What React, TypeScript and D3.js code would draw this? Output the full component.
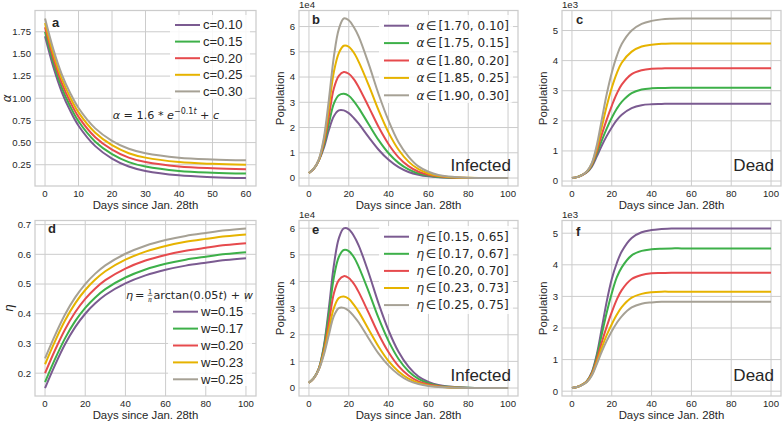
import React from "react";
import * as d3 from "d3";

// ---------- data ----------
const A_DAYS = [0, 2.5, 5, 7.5, 10, 15, 20, 25, 30, 40, 50, 60];
const DAYS = [0, 2.5, 5, 7.5, 10, 12.5, 15, 17.5, 20, 22.5, 25, 30, 35, 40, 45, 50, 55, 60, 65, 70, 80, 90, 100];
const D_DAYS = [0, 5, 10, 15, 20, 25, 30, 40, 50, 60, 70, 80, 90, 100];

const COLORS = ["#7b5b91", "#3db049", "#e64a4d", "#e6b300", "#a6a195"];

// panel a: alpha(t)
const aC010 = [1.70, 1.35, 1.07, 0.86, 0.69, 0.46, 0.32, 0.23, 0.18, 0.13, 0.11, 0.10];
const aC015 = [1.75, 1.40, 1.12, 0.91, 0.74, 0.51, 0.37, 0.28, 0.23, 0.18, 0.16, 0.15];
const aC020 = [1.80, 1.45, 1.17, 0.96, 0.79, 0.56, 0.42, 0.33, 0.28, 0.23, 0.21, 0.20];
const aC025 = [1.85, 1.50, 1.22, 1.01, 0.84, 0.61, 0.47, 0.38, 0.33, 0.28, 0.26, 0.25];
const aC030 = [1.90, 1.55, 1.27, 1.06, 0.89, 0.66, 0.52, 0.43, 0.38, 0.33, 0.31, 0.30];
const A_LABELS = ["c=0.10", "c=0.15", "c=0.20", "c=0.25", "c=0.30"];

// panel b: infected (1e4)
const bPurple = [0.20, 0.37, 0.70, 1.20, 1.90, 2.45, 2.68, 2.68, 2.57, 2.38, 2.15, 1.62, 1.12, 0.72, 0.43, 0.24, 0.13, 0.065, 0.032, 0.015, 0.003, 0, 0];
const bGreen = [0.20, 0.37, 0.71, 1.30, 2.15, 2.95, 3.28, 3.34, 3.26, 3.05, 2.77, 2.13, 1.50, 0.98, 0.60, 0.34, 0.18, 0.095, 0.045, 0.022, 0.004, 0, 0];
const bRed = [0.20, 0.37, 0.72, 1.40, 2.45, 3.55, 4.05, 4.20, 4.13, 3.92, 3.60, 2.82, 2.02, 1.34, 0.82, 0.47, 0.25, 0.13, 0.065, 0.03, 0.005, 0, 0];
const bYellow = [0.20, 0.38, 0.73, 1.50, 2.80, 4.20, 4.95, 5.24, 5.20, 4.97, 4.60, 3.68, 2.68, 1.80, 1.12, 0.65, 0.35, 0.18, 0.09, 0.045, 0.008, 0, 0];
const bGray = [0.20, 0.38, 0.75, 1.60, 3.10, 4.80, 5.90, 6.32, 6.25, 5.98, 5.60, 4.52, 3.32, 2.27, 1.42, 0.85, 0.46, 0.25, 0.12, 0.06, 0.01, 0, 0];
const B_LABELS = ["[1.70, 0.10]", "[1.75, 0.15]", "[1.80, 0.20]", "[1.85, 0.25]", "[1.90, 0.30]"];

// panel c: dead (1e3)
const cPurple = [0.10, 0.13, 0.19, 0.29, 0.48, 0.82, 1.18, 1.50, 1.78, 2.02, 2.20, 2.42, 2.52, 2.55, 2.56, 2.57, 2.57, 2.57, 2.57, 2.57, 2.57, 2.57, 2.57];
const cGreen = [0.10, 0.13, 0.20, 0.30, 0.52, 0.92, 1.35, 1.75, 2.10, 2.40, 2.63, 2.92, 3.04, 3.08, 3.09, 3.10, 3.10, 3.10, 3.10, 3.10, 3.10, 3.10, 3.10];
const cRed = [0.10, 0.13, 0.20, 0.31, 0.55, 1.00, 1.55, 2.05, 2.50, 2.90, 3.20, 3.55, 3.68, 3.73, 3.74, 3.75, 3.75, 3.75, 3.75, 3.75, 3.75, 3.75, 3.75];
const cYellow = [0.10, 0.13, 0.20, 0.32, 0.58, 1.10, 1.80, 2.50, 3.10, 3.58, 3.93, 4.30, 4.47, 4.53, 4.56, 4.57, 4.57, 4.57, 4.57, 4.57, 4.57, 4.57, 4.57];
const cGray = [0.10, 0.13, 0.20, 0.32, 0.60, 1.20, 2.05, 2.90, 3.60, 4.15, 4.55, 5.00, 5.22, 5.32, 5.37, 5.39, 5.40, 5.40, 5.40, 5.40, 5.40, 5.40, 5.40];

// panel d: eta(t)
const dW015 = [0.150, 0.228, 0.298, 0.355, 0.400, 0.435, 0.463, 0.502, 0.529, 0.548, 0.562, 0.572, 0.581, 0.587];
const dW017 = [0.170, 0.248, 0.318, 0.375, 0.420, 0.455, 0.483, 0.522, 0.549, 0.568, 0.582, 0.592, 0.601, 0.607];
const dW020 = [0.200, 0.278, 0.348, 0.405, 0.450, 0.485, 0.513, 0.552, 0.579, 0.598, 0.612, 0.622, 0.631, 0.637];
const dW023 = [0.230, 0.308, 0.378, 0.435, 0.480, 0.515, 0.543, 0.582, 0.609, 0.628, 0.642, 0.652, 0.661, 0.667];
const dW025 = [0.250, 0.328, 0.398, 0.455, 0.500, 0.535, 0.563, 0.602, 0.629, 0.648, 0.662, 0.672, 0.681, 0.687];
const D_LABELS = ["w=0.15", "w=0.17", "w=0.20", "w=0.23", "w=0.25"];

// panel e: infected (1e4)
const ePurple = [0.20, 0.38, 0.75, 1.58, 3.00, 4.60, 5.62, 5.99, 5.96, 5.72, 5.35, 4.32, 3.17, 2.16, 1.36, 0.80, 0.43, 0.23, 0.11, 0.055, 0.01, 0, 0];
const eGreen = [0.20, 0.38, 0.74, 1.52, 2.78, 4.15, 4.92, 5.18, 5.14, 4.92, 4.55, 3.62, 2.62, 1.76, 1.09, 0.63, 0.34, 0.18, 0.09, 0.045, 0.008, 0, 0];
const eRed = [0.20, 0.37, 0.72, 1.40, 2.45, 3.55, 4.05, 4.20, 4.13, 3.92, 3.60, 2.82, 2.02, 1.34, 0.82, 0.47, 0.25, 0.13, 0.065, 0.03, 0.005, 0, 0];
const eYellow = [0.20, 0.37, 0.71, 1.32, 2.20, 3.00, 3.38, 3.44, 3.35, 3.13, 2.86, 2.20, 1.55, 1.01, 0.62, 0.35, 0.19, 0.10, 0.047, 0.023, 0.004, 0, 0];
const eGray = [0.20, 0.37, 0.70, 1.25, 2.00, 2.70, 3.00, 3.01, 2.90, 2.70, 2.46, 1.86, 1.29, 0.84, 0.51, 0.28, 0.15, 0.075, 0.037, 0.018, 0.003, 0, 0];
const E_LABELS = ["[0.15, 0.65]", "[0.17, 0.67]", "[0.20, 0.70]", "[0.23, 0.73]", "[0.25, 0.75]"];

// panel f: dead (1e3)
const fPurple = [0.10, 0.13, 0.20, 0.32, 0.60, 1.17, 2.00, 2.85, 3.55, 4.05, 4.42, 4.85, 5.03, 5.10, 5.13, 5.15, 5.15, 5.15, 5.15, 5.15, 5.15, 5.15, 5.15];
const fGreen = [0.10, 0.13, 0.20, 0.32, 0.58, 1.10, 1.80, 2.50, 3.10, 3.60, 3.92, 4.30, 4.44, 4.49, 4.51, 4.52, 4.52, 4.52, 4.52, 4.52, 4.52, 4.52, 4.52];
const fRed = [0.10, 0.13, 0.20, 0.31, 0.55, 1.00, 1.55, 2.05, 2.50, 2.90, 3.20, 3.55, 3.68, 3.73, 3.74, 3.75, 3.75, 3.75, 3.75, 3.75, 3.75, 3.75, 3.75];
const fYellow = [0.10, 0.13, 0.20, 0.30, 0.52, 0.92, 1.38, 1.78, 2.12, 2.42, 2.66, 2.96, 3.08, 3.13, 3.15, 3.15, 3.15, 3.15, 3.15, 3.15, 3.15, 3.15, 3.15];
const fGray = [0.10, 0.13, 0.19, 0.29, 0.50, 0.86, 1.25, 1.60, 1.90, 2.16, 2.37, 2.65, 2.77, 2.81, 2.83, 2.83, 2.83, 2.83, 2.83, 2.83, 2.83, 2.83, 2.83];

const X_TICKS_A = [0, 10, 20, 30, 40, 50, 60];
const X_TICKS = [0, 20, 40, 60, 80, 100];
const Y_TICKS_A = [0.25, 0.5, 0.75, 1.0, 1.25, 1.5, 1.75];
const Y_TICKS_B = [0, 1, 2, 3, 4, 5, 6];
const Y_TICKS_C = [0, 1, 2, 3, 4, 5];
const Y_TICKS_D = [0.2, 0.3, 0.4, 0.5, 0.6, 0.7];
const X_LABEL = "Days since Jan. 28th";

// ---------- style ----------
const FONT = "'Liberation Sans', Arial, sans-serif";
const MATH = "'DejaVu Sans', sans-serif";
const INK = "#262626";
const GRID = "#cccccc";

const COLS = [{ l: 35, r: 256 }, { l: 299, r: 518 }, { l: 562, r: 781 }];
const ROWS = [{ t: 10.5, b: 186 }, { t: 220.5, b: 396 }];

function padExtent(vals: number[]): [number, number] {
  const [mn, mx] = d3.extent(vals) as [number, number];
  const p = (mx - mn) * 0.05;
  return [mn - p, mx + p];
}

type PanelProps = {
  col: number;
  row: number;
  letter: string;
  letterDx: number;
  letterDy: number;
  days: number[];
  series: number[][];
  xTicks: number[];
  yTicks: number[];
  yFmt: (v: number) => string;
  ylabel: React.ReactNode;
  exp?: string;
  note?: string;
  legend?: { labels: string[]; sym?: string; x: number; y: number; dy: number; w: number; h: number; boxX: number; boxY: number };
  extra?: React.ReactNode;
};

function Panel(p: PanelProps) {
  const { l, r } = COLS[p.col];
  const { t, b } = ROWS[p.row];
  const x = d3.scaleLinear().domain(padExtent(p.days)).range([l, r]);
  const y = d3.scaleLinear().domain(padExtent(p.series.flat())).range([b, t]);
  const line = d3
    .line<[number, number]>()
    .x((d) => x(d[0]))
    .y((d) => y(d[1]))
    .curve(d3.curveCatmullRom.alpha(0.5));
  const lg = p.legend;
  return (
    <g>
      <rect x={l} y={t} width={r - l} height={b - t} fill="#fff" />
      {p.xTicks.map((v) => (
        <line key={"gx" + v} x1={x(v)} x2={x(v)} y1={t} y2={b} stroke={GRID} strokeWidth={1} />
      ))}
      {p.yTicks.map((v) => (
        <line key={"gy" + v} x1={l} x2={r} y1={y(v)} y2={y(v)} stroke={GRID} strokeWidth={1} />
      ))}
      {lg && (
        <rect x={lg.boxX} y={lg.boxY} width={lg.w} height={lg.h} fill="#fff" fillOpacity={0.85} rx={3} />
      )}
      {p.series.map((s, i) => (
        <path
          key={"s" + i}
          d={line(p.days.map((d, j) => [d, s[j]] as [number, number])) || ""}
          fill="none"
          stroke={COLORS[i]}
          strokeWidth={2}
          strokeLinejoin="round"
        />
      ))}
      <rect x={l} y={t} width={r - l} height={b - t} fill="none" stroke={GRID} strokeWidth={1.25} />
      {p.xTicks.map((v) => (
        <text key={"tx" + v} x={x(v)} y={b + 11} textAnchor="middle" fontFamily={FONT} fontSize={9.6} fill={INK}>
          {v}
        </text>
      ))}
      {p.yTicks.map((v) => (
        <text key={"ty" + v} x={l - 4} y={y(v) + 3.4} textAnchor="end" fontFamily={FONT} fontSize={9.6} fill={INK}>
          {p.yFmt(v)}
        </text>
      ))}
      {p.exp && (
        <text x={l} y={t - 2.5} fontFamily={FONT} fontSize={9.6} fill={INK}>
          {p.exp}
        </text>
      )}
      <text x={(l + r) / 2} y={b + 23} textAnchor="middle" fontFamily={FONT} fontSize={11.4} fill={INK}>
        {X_LABEL}
      </text>
      {p.ylabel}
      <text x={l + p.letterDx} y={t + p.letterDy} fontFamily={FONT} fontWeight="bold" fontSize={13} fill={INK}>
        {p.letter}
      </text>
      {p.note && (
        <text x={r - 7} y={b - 15} textAnchor="end" fontFamily={FONT} fontSize={17} fill={INK}>
          {p.note}
        </text>
      )}
      {lg &&
        lg.labels.map((lab, i) => (
          <g key={"lg" + i}>
            <line x1={lg.x} x2={lg.x + 25} y1={lg.y + i * lg.dy} y2={lg.y + i * lg.dy} stroke={COLORS[i]} strokeWidth={2} />
            {lg.sym ? (
              <text x={lg.x + 32.5} y={lg.y + i * lg.dy + 4.3} fontFamily={MATH} fontSize={12} fill={INK}>
                <tspan fontStyle="italic">{lg.sym}</tspan>
                <tspan dx={1.6}>∈</tspan>
                <tspan dx={2}>{lab}</tspan>
              </text>
            ) : (
              <text x={lg.x + 28} y={lg.y + i * lg.dy + 4.3} fontFamily={FONT} fontSize={13} fill={INK}>
                {lab}
              </text>
            )}
          </g>
        ))}
      {p.extra}
    </g>
  );
}

function YLabelText({ x, y, text }: { x: number; y: number; text: string }) {
  return (
    <text transform={`translate(${x},${y}) rotate(-90)`} textAnchor="middle" fontFamily={FONT} fontSize={11.4} fill={INK}>
      {text}
    </text>
  );
}

function YLabelMath({ x, y, text }: { x: number; y: number; text: string }) {
  return (
    <text transform={`translate(${x},${y}) rotate(-90)`} textAnchor="middle" fontFamily={MATH} fontStyle="italic" fontSize={12} fill={INK}>
      {text}
    </text>
  );
}

export default function App() {
  const f2 = d3.format(".2f");
  const f1 = d3.format(".1f");
  const f0 = d3.format("d");
  const rowMid0 = (ROWS[0].t + ROWS[0].b) / 2;
  const rowMid1 = (ROWS[1].t + ROWS[1].b) / 2;
  return (
    <svg width={782} height={423} style={{ position: "absolute", left: 0, top: 0, background: "#fff" }}>
      <Panel
        col={0}
        row={0}
        letter="a"
        letterDx={17}
        letterDy={16.5}
        days={A_DAYS}
        series={[aC010, aC015, aC020, aC025, aC030]}
        xTicks={X_TICKS_A}
        yTicks={Y_TICKS_A}
        yFmt={f2}
        ylabel={<YLabelMath x={11} y={rowMid0} text="α" />}
        legend={{ labels: A_LABELS, x: 175, y: 25, dy: 16.6, w: 80, h: 84, boxX: 170, boxY: 15 }}
        extra={
          <text x={112.7} y={119} fontFamily={MATH} fontSize={11.2} fill={INK}>
            <tspan fontStyle="italic">α</tspan>
            <tspan> = 1.6 * </tspan>
            <tspan fontStyle="italic">e</tspan>
            <tspan fontSize={8} dy={-5}>−0.1</tspan>
            <tspan fontSize={8} fontStyle="italic">t</tspan>
            <tspan dy={5}> + </tspan>
            <tspan fontStyle="italic">c</tspan>
          </text>
        }
      />
      <Panel
        col={1}
        row={0}
        letter="b"
        letterDx={13}
        letterDy={13.5}
        days={DAYS}
        series={[bPurple, bGreen, bRed, bYellow, bGray]}
        xTicks={X_TICKS}
        yTicks={Y_TICKS_B}
        yFmt={f0}
        exp="1e4"
        note="Infected"
        ylabel={<YLabelText x={284} y={rowMid0} text="Population" />}
        legend={{ labels: B_LABELS, sym: "α", x: 384, y: 25.7, dy: 17.4, w: 134, h: 88, boxX: 379, boxY: 15 }}
      />
      <Panel
        col={2}
        row={0}
        letter="c"
        letterDx={14}
        letterDy={13.5}
        days={DAYS}
        series={[cPurple, cGreen, cRed, cYellow, cGray]}
        xTicks={X_TICKS}
        yTicks={Y_TICKS_C}
        yFmt={f0}
        exp="1e3"
        note="Dead"
        ylabel={<YLabelText x={547} y={rowMid0} text="Population" />}
      />
      <Panel
        col={0}
        row={1}
        letter="d"
        letterDx={13}
        letterDy={12.5}
        days={D_DAYS}
        series={[dW015, dW017, dW020, dW023, dW025]}
        xTicks={X_TICKS}
        yTicks={Y_TICKS_D}
        yFmt={f1}
        ylabel={<YLabelMath x={13} y={rowMid1} text="η" />}
        legend={{ labels: D_LABELS, x: 173, y: 311.7, dy: 16.9, w: 84, h: 84, boxX: 168, boxY: 302 }}
        extra={
          <g fontFamily={MATH} fill={INK}>
            <text x={126} y={299} fontSize={11.2}>
              <tspan fontStyle="italic">η</tspan>
              <tspan dx={2}>=</tspan>
            </text>
            <text x={150} y={293.5} fontSize={6.5} textAnchor="middle">1</text>
            <line x1={147.6} x2={152.4} y1={295.3} y2={295.3} stroke={INK} strokeWidth={0.6} />
            <text x={150} y={301.5} fontSize={6.5} textAnchor="middle" fontStyle="italic">π</text>
            <text x={153.5} y={299} fontSize={11.2}>
              <tspan>arctan(0.05</tspan>
              <tspan fontStyle="italic">t</tspan>
              <tspan>) + </tspan>
              <tspan fontStyle="italic">w</tspan>
            </text>
          </g>
        }
      />
      <Panel
        col={1}
        row={1}
        letter="e"
        letterDx={13}
        letterDy={13.5}
        days={DAYS}
        series={[ePurple, eGreen, eRed, eYellow, eGray]}
        xTicks={X_TICKS}
        yTicks={Y_TICKS_B}
        yFmt={f0}
        exp="1e4"
        note="Infected"
        ylabel={<YLabelText x={284} y={rowMid1} text="Population" />}
        legend={{ labels: E_LABELS, sym: "η", x: 384, y: 236.7, dy: 17.1, w: 134, h: 88, boxX: 379, boxY: 226 }}
      />
      <Panel
        col={2}
        row={1}
        letter="f"
        letterDx={14}
        letterDy={15.5}
        days={DAYS}
        series={[fPurple, fGreen, fRed, fYellow, fGray]}
        xTicks={X_TICKS}
        yTicks={Y_TICKS_C}
        yFmt={f0}
        exp="1e3"
        note="Dead"
        ylabel={<YLabelText x={547} y={rowMid1} text="Population" />}
      />
    </svg>
  );
}
